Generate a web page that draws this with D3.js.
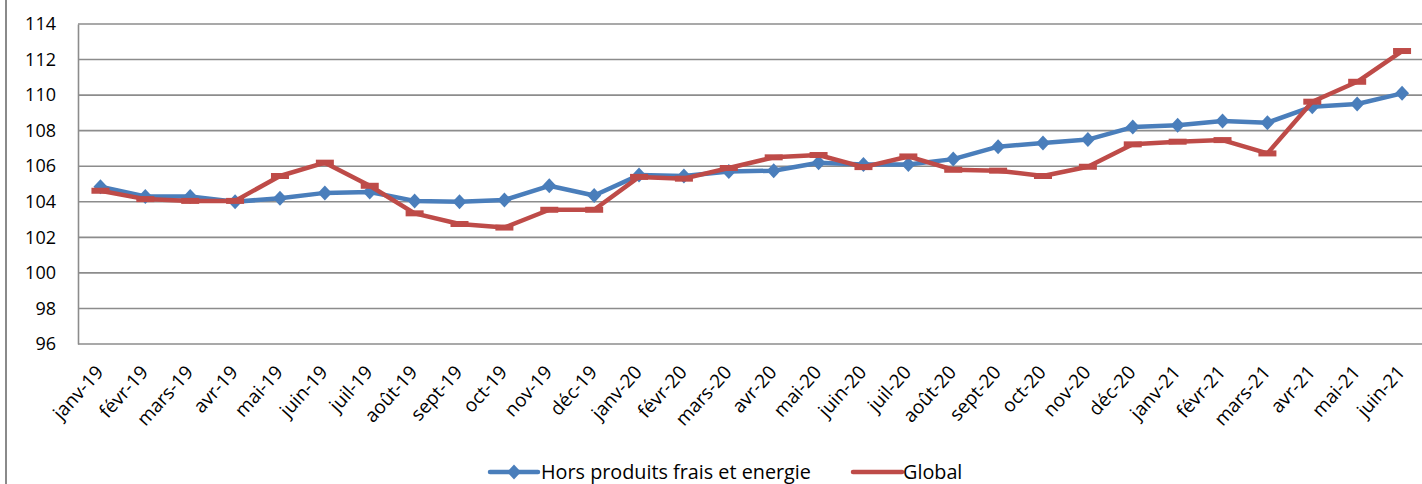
<!DOCTYPE html>
<html>
<head>
<meta charset="utf-8">
<script src="https://cdnjs.cloudflare.com/ajax/libs/d3/7.8.5/d3.min.js"></script>
<style>
  html, body { margin: 0; padding: 0; background: #fff; }
  svg { display: block; }
  text { font-family: "Open Sans", "Noto Sans", sans-serif; fill: #000; }
</style>
</head>
<body>
<svg id="chart" width="1422" height="484"></svg>
<script>
const months = ["janv-19","févr-19","mars-19","avr-19","mai-19","juin-19","juil-19","août-19","sept-19","oct-19","nov-19","déc-19",
  "janv-20","févr-20","mars-20","avr-20","mai-20","juin-20","juil-20","août-20","sept-20","oct-20","nov-20","déc-20",
  "janv-21","févr-21","mars-21","avr-21","mai-21","juin-21"];
const horsProduitsFrais = [104.85,104.3,104.3,104.0,104.2,104.5,104.55,104.05,104.0,104.1,104.9,104.35,
  105.5,105.45,105.7,105.75,106.2,106.1,106.1,106.4,107.1,107.3,107.5,108.2,
  108.3,108.55,108.45,109.35,109.5,110.1];
const global = [104.62,104.15,104.05,104.05,105.45,106.2,104.9,103.35,102.75,102.55,103.55,103.55,
  105.4,105.3,105.9,106.5,106.63,105.95,106.55,105.8,105.75,105.45,105.97,107.23,
  107.38,107.47,106.72,109.63,110.75,112.48];
const yTicks = [96,98,100,102,104,106,108,110,112,114];
const seriesNames = ["Hors produits frais et energie","Global"];
const colors = ["#4A7EBB","#BE4B48"];

const svg = d3.select("#chart");
const mLeft = 78, mRight = 1424.5, mTop = 24, mBottom = 344;

const x = d3.scalePoint().domain(months).range([mLeft, mRight]).padding(0.5);
const y = d3.scaleLinear().domain([96, 114]).range([mBottom, mTop]);

const diamond = "M0,-7.5L7,0L0,7.5L-7,0Z";

// outer chart frame left border
svg.append("line").attr("x1", 6).attr("x2", 6).attr("y1", 0).attr("y2", 484)
  .attr("stroke", "#8a8a8a").attr("stroke-width", 2);

// gridlines
svg.append("g").selectAll("line").data(yTicks).join("line")
  .attr("x1", mLeft).attr("x2", 1422)
  .attr("y1", d => y(d)).attr("y2", d => y(d))
  .attr("stroke", "#8c8c8c").attr("stroke-width", 1.6);

// y axis
const yAxis = svg.append("g").attr("transform", `translate(${mLeft},0)`)
  .call(d3.axisLeft(y).tickValues(yTicks).tickSize(0).tickPadding(22).tickFormat(d3.format("d")));
yAxis.select(".domain").attr("stroke", "#8c8c8c").attr("stroke-width", 1.6);
yAxis.selectAll("text").style("font-size", "18px").attr("fill", "#000");

// x axis labels
svg.append("g").selectAll("text").data(months).join("text")
  .attr("transform", d => `translate(${x(d) + 4},373) rotate(-48)`)
  .attr("text-anchor", "end")
  .style("font-size", "19px")
  .text(d => d);

// lines
const line = vals => d3.line().x((d, i) => x(months[i])).y(d => y(d))(vals);

svg.append("path").attr("d", line(horsProduitsFrais))
  .attr("fill", "none").attr("stroke", colors[0]).attr("stroke-width", 4.5).attr("stroke-linejoin", "round");
svg.append("g").selectAll("path").data(horsProduitsFrais).join("path")
  .attr("d", diamond)
  .attr("transform", (d, i) => `translate(${x(months[i])},${y(d)})`)
  .attr("fill", colors[0]);

svg.append("path").attr("d", line(global))
  .attr("fill", "none").attr("stroke", colors[1]).attr("stroke-width", 4.5).attr("stroke-linejoin", "round");
svg.append("g").selectAll("rect").data(global).join("rect")
  .attr("x", (d, i) => x(months[i]) - 9).attr("y", d => y(d) - 3)
  .attr("width", 18).attr("height", 6)
  .attr("fill", colors[1]);

// legend
const legY = 472;
const lg = svg.append("g");
lg.append("line").attr("x1", 490).attr("x2", 538).attr("y1", legY).attr("y2", legY)
  .attr("stroke", colors[0]).attr("stroke-width", 4.5).attr("stroke-linecap", "round");
lg.append("path").attr("d", diamond).attr("transform", `translate(514,${legY})`).attr("fill", colors[0]);
lg.append("text").attr("x", 541).attr("y", legY).attr("dy", "0.36em").style("font-size", "19.8px").text(seriesNames[0]);
lg.append("line").attr("x1", 853).attr("x2", 902).attr("y1", legY).attr("y2", legY)
  .attr("stroke", colors[1]).attr("stroke-width", 4.5).attr("stroke-linecap", "round");
lg.append("text").attr("x", 903).attr("y", legY).attr("dy", "0.36em").style("font-size", "19.8px").text(seriesNames[1]);
</script>
</body>
</html>
